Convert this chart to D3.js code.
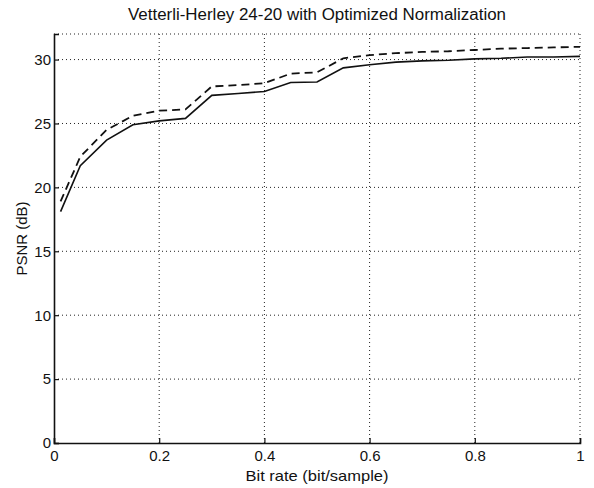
<!DOCTYPE html>
<html>
<head>
<meta charset="utf-8">
<script src="https://cdn.jsdelivr.net/npm/d3@7"></script>
<style>
  body { margin: 0; background: #fff; }
  text { font-family: "Liberation Sans", Arial, sans-serif; fill: #111; }
</style>
</head>
<body>
<div id="chart"></div>
<script>
// bit rate samples (bit/sample)
const bitRates = [0.0125, 0.05, 0.1, 0.15, 0.2, 0.25, 0.3, 0.35, 0.4, 0.45, 0.5,
  0.55, 0.6, 0.65, 0.7, 0.75, 0.8, 0.85, 0.9, 0.95, 1.0];
// solid curve
const psnrSolid = [18.1, 21.7, 23.7, 24.9, 25.2, 25.4, 27.2, 27.35, 27.5, 28.2, 28.25,
  29.35, 29.6, 29.8, 29.9, 29.95, 30.05, 30.1, 30.2, 30.2, 30.25];
// dashed curve
const psnrDashed = [18.9, 22.4, 24.5, 25.6, 26.0, 26.1, 27.9, 28.0, 28.15, 28.9, 29.0,
  30.1, 30.35, 30.5, 30.6, 30.65, 30.75, 30.85, 30.9, 30.95, 31.0];
const xTicks = [0, 0.2, 0.4, 0.6, 0.8, 1];
const yTicks = [0, 5, 10, 15, 20, 25, 30];

const width = 594, height = 488;
const margin = { top: 34, right: 14, bottom: 45, left: 54 };
const innerW = width - margin.left - margin.right;
const innerH = height - margin.top - margin.bottom;

const svg = d3.select('#chart').append('svg')
  .attr('width', width)
  .attr('height', height);

const g = svg.append('g')
  .attr('transform', `translate(${margin.left},${margin.top})`);

const x = d3.scaleLinear().domain([0, 1]).range([0, innerW]);
const y = d3.scaleLinear().domain([0, 32]).range([innerH, 0]);

// dotted grid
const dots = '1,3';
g.selectAll('.vgrid')
  .data(xTicks.filter(d => d > 0))
  .join('line')
    .attr('class', 'vgrid')
    .attr('x1', d => x(d)).attr('x2', d => x(d))
    .attr('y1', 0).attr('y2', innerH)
    .attr('stroke', '#222').attr('stroke-width', 1)
    .attr('stroke-dasharray', dots);
g.selectAll('.hgrid')
  .data(yTicks.filter(d => d > 0))
  .join('line')
    .attr('class', 'hgrid')
    .attr('x1', 0).attr('x2', innerW)
    .attr('y1', d => y(d)).attr('y2', d => y(d))
    .attr('stroke', '#222').attr('stroke-width', 1)
    .attr('stroke-dasharray', dots);
// top border dotted
g.append('line')
  .attr('x1', 0).attr('x2', innerW).attr('y1', 0).attr('y2', 0)
  .attr('stroke', '#222').attr('stroke-dasharray', dots);

// axes (ticks point inward)
const xAxis = g.append('g')
  .attr('transform', `translate(0,${innerH})`)
  .call(d3.axisBottom(x).tickValues(xTicks).tickSize(-5).tickPadding(7)
    .tickFormat(d => d === 0 || d === 1 ? d3.format('d')(d) : d3.format('.1f')(d)));
const yAxis = g.append('g')
  .call(d3.axisLeft(y).tickValues(yTicks).tickSize(-5).tickPadding(3));

[xAxis, yAxis].forEach(a => {
  a.select('.domain').attr('stroke', '#111').attr('stroke-width', 1.6);
  a.selectAll('.tick line').attr('stroke', '#111').attr('stroke-width', 1.2);
  a.selectAll('.tick text')
    .attr('font-size', 15)
    .style('font-family', '"Liberation Sans", Arial, sans-serif')
    .attr('fill', '#111');
});

// curves
const line = d3.line()
  .x((d, i) => x(bitRates[i]))
  .y(d => y(d));

g.append('path')
  .datum(psnrSolid)
  .attr('d', line)
  .attr('fill', 'none')
  .attr('stroke', '#111')
  .attr('stroke-width', 1.6);

g.append('path')
  .datum(psnrDashed)
  .attr('d', line)
  .attr('fill', 'none')
  .attr('stroke', '#111')
  .attr('stroke-width', 1.8)
  .attr('stroke-dasharray', '8,5');

// labels
svg.append('text')
  .attr('x', margin.left + innerW / 2)
  .attr('y', 20)
  .attr('text-anchor', 'middle')
  .attr('font-size', 16)
  .attr('textLength', 378)
  .attr('lengthAdjust', 'spacingAndGlyphs')
  .text('Vetterli-Herley 24-20 with Optimized Normalization');

svg.append('text')
  .attr('x', margin.left + innerW / 2)
  .attr('y', 481)
  .attr('text-anchor', 'middle')
  .attr('font-size', 15)
  .attr('textLength', 143)
  .attr('lengthAdjust', 'spacingAndGlyphs')
  .text('Bit rate (bit/sample)');

svg.append('text')
  .attr('transform', `translate(27,${margin.top + innerH / 2}) rotate(-90)`)
  .attr('text-anchor', 'middle')
  .attr('font-size', 15)
  .text('PSNR (dB)');
</script>
</body>
</html>
